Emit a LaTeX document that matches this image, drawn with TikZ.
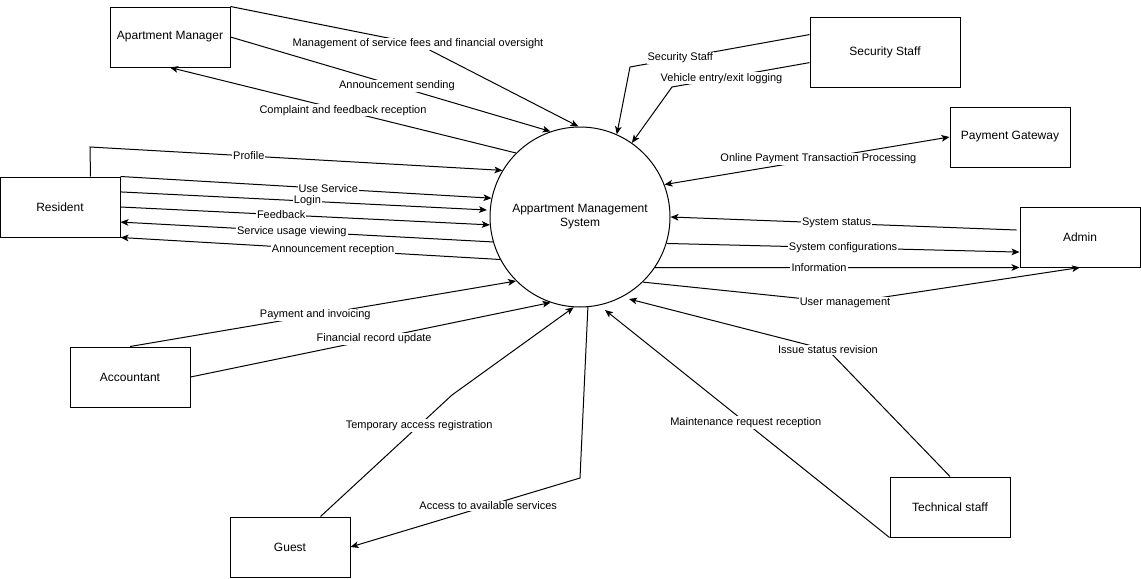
\documentclass[tikz,border=0pt]{standalone}
\usepackage{fontspec}
\setmainfont{Liberation Sans}
\usetikzlibrary{arrows.meta,calc}
\begin{document}
\begin{tikzpicture}[x=0.75pt,y=-0.75pt,
  ent/.style={draw, line width=0.75pt, minimum width=90pt, minimum height=45pt, inner sep=0pt, font=\fontsize{9}{10.8}\selectfont},
  proc/.style={draw, circle, line width=0.75pt, minimum size=135pt, inner sep=0pt, align=center, font=\fontsize{9}{10.5}\selectfont},
  tip/.tip={Stealth[length=6pt,width=5pt,inset=1.5pt]},
  flow/.style={line width=0.75pt, -tip},
  line/.style={line width=0.75pt},
  both/.style={line width=0.75pt, tip-tip},
  lbl/.style={fill=white, inner sep=0.8pt, font=\fontsize{8.25}{9}\selectfont}
]
\useasboundingbox (0,0) rectangle (1141,578);

% nodes
\node[proc] (sys) at (580,217) {Appartment Management\\System};
\node[ent] (am) at (170,37) {Apartment Manager};
\node[ent, minimum width=112.5pt, minimum height=52.5pt] (sec) at (885,52) {Security Staff};
\node[ent] (pg) at (1010,137) {Payment Gateway};
\node[ent] (res) at (60,207) {Resident};
\node[ent] (adm) at (1080,237) {Admin};
\node[ent] (acc) at (130,377) {Accountant};
\node[ent] (guest) at (290,547) {Guest};
\node[ent] (tech) at (950,507) {Technical staff};

% waypoints
\coordinate (w1) at (418,44);
\coordinate (w4) at (630,67);
\coordinate (w5) at (672,87);
\coordinate (w7) at (90,147);
\coordinate (w16) at (845,303);
\coordinate (w19) at (452,395);
\coordinate (w20) at (580,478);
\coordinate (w22) at (828,350);

% Apartment Manager
\draw[flow] (am.north east) -- (w1) node[lbl]{Management of service fees and financial oversight} -- (sys.91);
\draw[flow] (am.east) -- node[lbl,pos=0.52]{Announcement sending} (sys.109);
\draw[flow] (sys.135) -- node[lbl,pos=0.5]{Complaint and feedback reception} (am.south);

% Security Staff
\draw[flow] (sec.167) -- node[lbl,pos=0.72]{Security Staff} (w4) -- (sys.66);
\draw[flow] (sec.188) -- node[lbl,pos=0.64]{Vehicle entry/exit logging} (w5) -- (sys.55);

% Payment Gateway
\draw[both] (sys.21) -- node[lbl,pos=0.54]{Online Payment Transaction Processing} (pg.west);

% Resident
\draw[flow] (res.45) -- (w7) -- node[lbl,pos=0.385]{Profile} (sys.149);
\draw[flow] (res.north east) -- node[lbl,pos=0.56]{Use Service} (sys.168);
\draw[flow] (res.14) -- node[lbl,pos=0.51]{Login} ($(sys.center)+(-93,-7)$);
\draw[flow] (res.east) -- node[lbl,pos=0.435]{Feedback} (sys.185);
\draw[flow] (sys.196) -- node[lbl,pos=0.54]{Service usage viewing} (res.-14);
\draw[flow] (sys.208) -- node[lbl,pos=0.44]{Announcement reception} (res.south east);

% Admin
\draw[flow] ($(adm.west)+(-3,-7)$) -- node[lbl,pos=0.52]{System status} (sys.0);
\draw[flow] (sys.-17) -- node[lbl,pos=0.5]{System configurations} (adm.194);
\draw[flow] (sys.-34) -- node[lbl,pos=0.45]{Information} (adm.south west);
\draw[flow] (sys.-46) -- (w16) node[lbl]{User management} -- (adm.south);

% Accountant
\draw[flow] (acc.north) -- node[lbl,pos=0.48]{Payment and invoicing} (sys.225);
\draw[flow] (acc.east) -- node[lbl,pos=0.51]{Financial record update} (sys.251);

% Guest
\draw[flow] (guest.45) -- node[lbl,pos=0.75]{Temporary access registration} (w19) -- (sys.266);
\draw[flow] (sys.-85) -- (w20) -- node[lbl,pos=0.4]{Access to available services} (guest.east);

% Technical staff
\draw[flow] (tech.south west) -- node[lbl,pos=0.505]{Maintenance request reception} ($(sys.center)+(25,93)$);
\draw[flow] (tech.north) -- (w22) node[lbl]{Issue status revision} -- ($(sys.center)+(49,82)$);
\end{tikzpicture}
\end{document}
